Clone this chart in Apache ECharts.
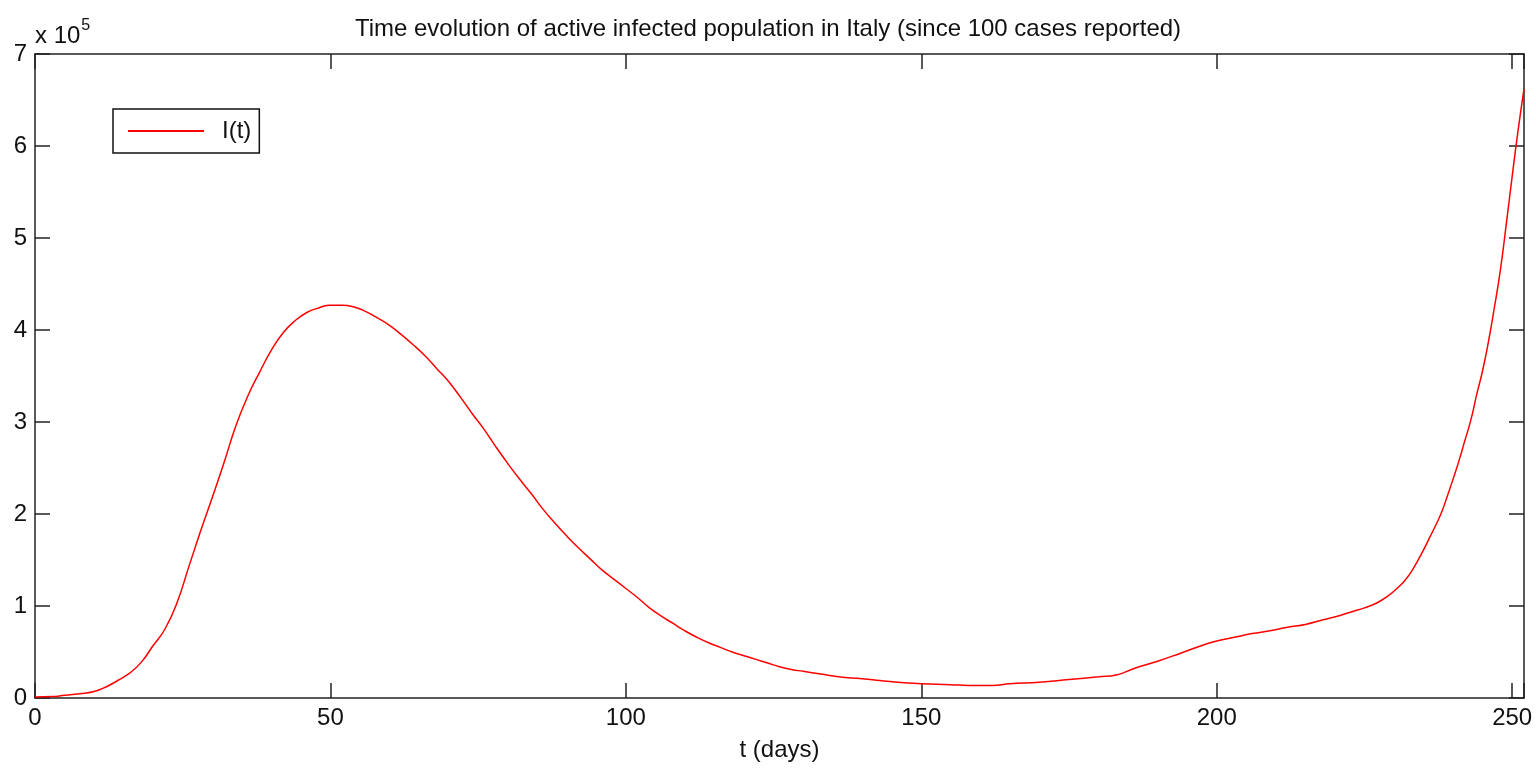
<!DOCTYPE html>
<html>
<head>
<meta charset="utf-8">
<script src="https://cdn.jsdelivr.net/npm/echarts@6/dist/echarts.min.js"></script>
<style>
html,body{margin:0;padding:0;background:#fff;}
#chart{width:1536px;height:769px;}
</style>
</head>
<body>
<div id="chart"></div>
<script>
// Data
var days = [0,3,5,8,10,12,14,16,18,20,22,24,26,28,30,32,34,36,38,40,42,44,46,48,50,52,54,56,58,60,62,64,66,68,70,72,74,76,78,80,82,84,86,88,90,92,94,96,98,100,102,104,106,108,110,112,114,116,118,120,122,124,126,128,130,133,136,140,143,146,150,155,158,162,165,170,175,180,183,186,190,194,197,200,203,206,209,212,215,218,221,223,225,227,229,231,232,233,234,235,236,237,238,239,240,241,242,243,244,245,246,247,248,249,250,251,252];
var activeInfected = [1000,1500,3000,5000,7000,12000,19000,27000,39000,57000,75000,103000,142000,181000,218000,256000,296000,328000,354000,378000,397000,410000,419000,424000,427000,427000,425000,420000,413000,405000,395000,384000,372000,358000,344000,327000,309000,292000,273000,255000,238000,222000,205000,190000,176000,163000,151000,139000,129000,119000,109000,98000,89000,81000,73000,66000,60000,55000,50000,46000,42000,38000,34000,31000,29000,26000,23000,21000,19000,17000,15500,14500,13600,13600,15500,17000,20000,23000,25000,32000,40000,49000,56000,62000,66000,70000,73000,77000,80000,85000,90000,94000,98000,103000,111000,122000,129000,138000,149000,161000,174000,187000,201000,219000,238000,258000,280000,302000,330000,356000,388000,425000,465000,515000,567000,617000,662000];
var xTicks = [0,50,100,150,200,250];
var yTicks = [0,1,2,3,4,5,6,7]; // in units of 10^5
var seriesName = 'I(t)';
var titleText = 'Time evolution of active infected population in Italy (since 100 cases reported)';
var xName = 't (days)';

var points = days.map(function(d,i){ return [d, activeInfected[i]]; });

var chart = echarts.init(document.getElementById('chart'), null, {renderer:'canvas'});
var FONT = '"Liberation Sans Narrow","Liberation Sans",Arial,sans-serif';
var lblSize = 24;
var axisCommon = {
  axisLine:{show:true, onZero:false, lineStyle:{color:'#222', width:1.5}},
  splitLine:{show:false}
};
chart.setOption({
  backgroundColor:'#fff',
  animation:false,
  title:{
    text:titleText, left:'center', top:12,
    textStyle:{fontFamily:FONT, fontSize:24, fontWeight:'normal', color:'#111'}
  },
  legend:{
    data:[seriesName], left:113, top:109, orient:'vertical',
    icon:'rect', itemWidth:76, itemHeight:2,
    padding:[10,8,10,15],
    borderColor:'#111', borderWidth:1.5, backgroundColor:'#fff',
    textStyle:{fontFamily:FONT, fontSize:24, color:'#111', padding:[0,0,0,13]}
  },
  grid:{left:35, right:12, top:54, bottom:71, containLabel:false},
  xAxis:[
    Object.assign({}, axisCommon, {
      type:'value', min:0, max:252, interval:50, position:'bottom',
      name:xName, nameLocation:'middle', nameGap:40,
      nameTextStyle:{fontFamily:FONT, fontSize:24, color:'#111'},
      axisTick:{show:true, inside:true, length:15, lineStyle:{color:'#222', width:1.5}},
      axisLabel:{fontFamily:FONT, fontSize:lblSize, color:'#111', margin:8,
        customValues: xTicks},
    }),
    Object.assign({}, axisCommon, {
      type:'value', min:0, max:252, interval:50, position:'top',
      axisTick:{show:true, inside:true, length:15, lineStyle:{color:'#222', width:1.5}},
      axisLabel:{show:false}
    })
  ],
  yAxis:[
    Object.assign({}, axisCommon, {
      type:'value', min:0, max:700000, interval:100000, position:'left',
      name:'{a|x 10}{b|5}', nameLocation:'end', nameGap:6,
      nameTextStyle:{align:'left', padding:[0,0,0,0],
        rich:{
          a:{fontFamily:FONT, fontSize:24, color:'#111', verticalAlign:'bottom'},
          b:{fontFamily:FONT, fontSize:16, color:'#111', verticalAlign:'top', padding:[0,0,14,1]}
        }},
      axisTick:{show:true, inside:true, length:15, lineStyle:{color:'#222', width:1.5}},
      axisLabel:{fontFamily:FONT, fontSize:lblSize, color:'#111', margin:8,
        formatter:function(v){ return String(Math.round(v/100000)); }}
    }),
    Object.assign({}, axisCommon, {
      type:'value', min:0, max:700000, interval:100000, position:'right',
      axisTick:{show:true, inside:true, length:15, lineStyle:{color:'#222', width:1.5}},
      axisLabel:{show:false}
    })
  ],
  series:[{
    name:seriesName, type:'line', data:points, xAxisIndex:0, yAxisIndex:0,
    showSymbol:false, symbol:'none', smooth:0.5,
    lineStyle:{color:'#ff0000', width:1.5},
    itemStyle:{color:'#ff0000'}
  }]
});
</script>
</body>
</html>
